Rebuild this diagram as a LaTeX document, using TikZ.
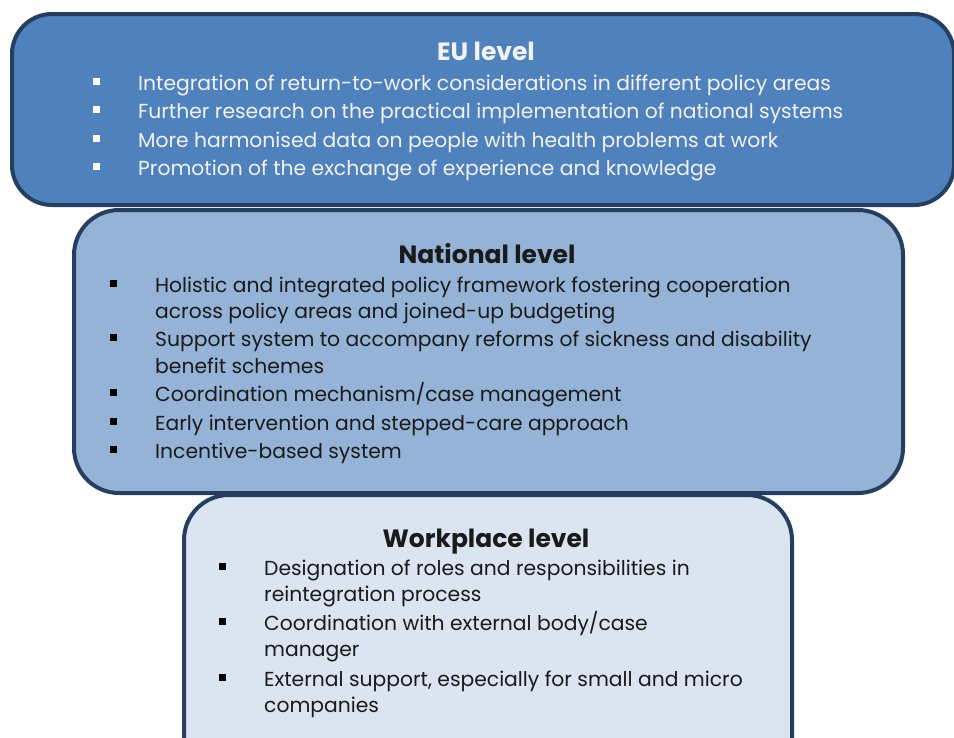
\documentclass[tikz,border=0pt]{standalone}
\usepackage{fontspec}
\setmainfont{Poppins}
\definecolor{edge}{HTML}{243F60}
\definecolor{eufill}{HTML}{4F81BD}
\definecolor{natfill}{HTML}{95B3D7}
\definecolor{wpfill}{HTML}{DBE5F1}
\definecolor{eutext}{HTML}{F2F2F2}
\definecolor{darktext}{HTML}{1A1A1A}
\tikzset{
  box/.style={draw=edge, line width=4pt, rounded corners=40pt, inner sep=0pt, anchor=north west},
  line/.style={anchor=base west, inner sep=0pt, font=\fontsize{20.3}{24}\selectfont},
  title/.style={anchor=base, inner sep=0pt, font=\fontsize{25}{30}\selectfont\bfseries},
  sq/.style={rectangle, inner sep=0pt, minimum size=7pt},
}
\begin{document}
\begin{tikzpicture}[x=1pt,y=-1pt]
\useasboundingbox (0,0) rectangle (954,737);
\clip (0,0) rectangle (954,737);
% boxes
\node[box, fill=eufill, minimum width=942pt, minimum height=191pt] (eu) at (10,12) {};
\node[box, fill=natfill, minimum width=829pt, minimum height=283pt, rounded corners=45pt] (nat) at (72,208) {};
\node[box, fill=wpfill, minimum width=608pt, minimum height=300pt, rounded corners=45pt] (wp) at (182,493) {};
% EU level
\node[title, text=eutext] (eut) at (486,60) {EU level};
\foreach \y/\t [count=\i] in {83/{Integration of return-to-work considerations in different policy areas},
  111/{Further research on the practical implementation of national systems},
  140/{More harmonised data on people with health problems at work},
  168/{Promotion of the exchange of experience and knowledge}}{
  \node[sq, fill=white] (eub\i) at (96,\y-1.5) {};
  \node[line, text=eutext] (eul\i) at (138,\y+7.5) {\t};
}
% National level
\node[title, text=darktext] (natt) at (487,263) {National level};
\foreach \y [count=\i] in {285,339,394,423,451}{
  \node[sq, fill=black] (natb\i) at (113,\y-2) {};
}
\foreach \y/\t [count=\i] in {285/{Holistic and integrated policy framework fostering cooperation},
  311/{across policy areas and joined-up budgeting},
  339/{Support system to accompany reforms of sickness and disability},
  366/{benefit schemes},
  394/{Coordination mechanism/case management},
  423/{Early intervention and stepped-care approach},
  451/{Incentive-based system}}{
  \node[line, text=darktext] (natl\i) at (155,\y+7.5) {\t};
}
% Workplace level
\node[title, text=darktext] (wpt) at (486,547) {Workplace level};
\foreach \y [count=\i] in {568,623,679}{
  \node[sq, fill=black] (wpb\i) at (222,\y-2) {};
}
\foreach \y/\t [count=\i] in {568/{Designation of roles and responsibilities in},
  594/{reintegration process},
  623/{Coordination with external body/case},
  649/{manager},
  679/{External support, especially for small and micro},
  705/{companies}}{
  \node[line, text=darktext] (wpl\i) at (264,\y+7.5) {\t};
}
\end{tikzpicture}
\end{document}
